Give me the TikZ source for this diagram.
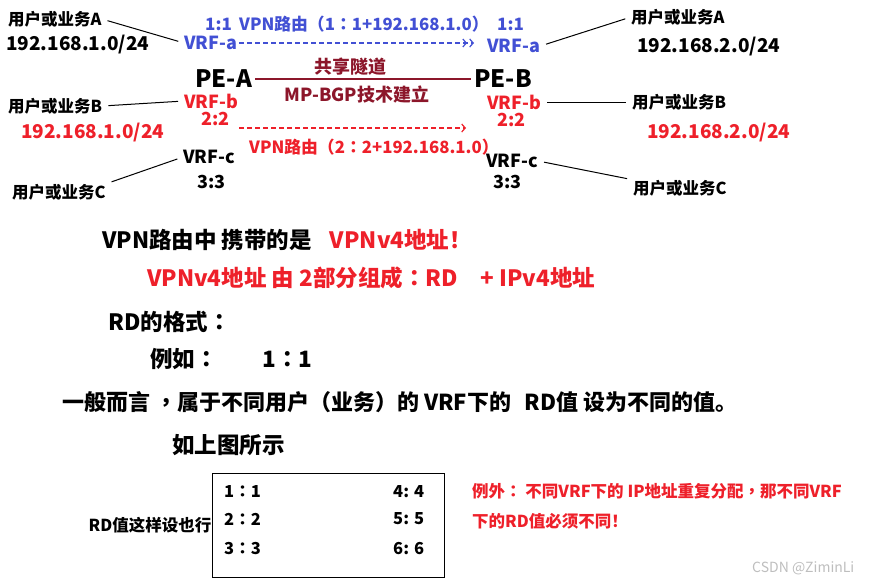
\documentclass[tikz,border=0pt]{standalone}
\usepackage{fontspec}
\setmainfont{Noto Sans CJK SC}
\newfontfamily\tcfont{Noto Sans CJK TC}
\usepackage{tikz}
\usetikzlibrary{arrows.meta}
\definecolor{vpnblue}{RGB}{66,80,212}
\definecolor{vpnred}{RGB}{238,32,42}
\definecolor{tunnelred}{RGB}{140,22,42}
\definecolor{markgray}{RGB}{190,190,190}
\newcommand{\setfs}[1]{\fontsize{#1}{#1}\selectfont}
\newcommand{\pu}[1]{{\tcfont#1}}

\begin{document}
\begin{tikzpicture}[x=1pt,y=-1pt,
    txt/.style={inner sep=0pt,anchor=west,font=\bfseries\setfs{16.5}},
    ipnum/.style={txt,font=\bfseries\setfs{19}},
    vrf/.style={txt,font=\bfseries\setfs{18}},
    pe/.style={txt,font=\bfseries\setfs{24}},
    big/.style={txt,font=\bfseries\setfs{22.5}},
    link/.style={draw=black,line width=1pt,shorten <=6pt,shorten >=6pt},
    route/.style={line width=1.2pt,dash pattern=on 5pt off 3pt}]
  \useasboundingbox (0,0) rectangle (869,584);
  % left side: PE-A
  \node[txt] (uAl) at (8,19) {用户或业务A};
  \node[ipnum] (ipAl) at (6,45) {192.168.1.0/24};
  \node[vrf,vpnblue,font=\bfseries\setfs{17}] (rdAl) at (205,24) {1:1};
  \node[vrf,vpnblue] (vrfaL) at (184,43) {VRF-a};
  \node[pe] (peA) at (195,79) {PE-A};
  \node[vrf,vpnred] (vrfbL) at (184,101) {VRF-b};
  \node[vrf,vpnred] (rdBl) at (201,119) {2:2};
  \node[txt] (uBl) at (8,106) {用户或业务B};
  \node[ipnum,vpnred] (ipBl) at (21,133) {192.168.1.0/24};
  \node[vrf] (vrfcL) at (183,157) {VRF-c};
  \node[vrf] (rdCl) at (197,182) {3:3};
  \node[txt] (uCl) at (12,192) {用户或业务C};
  % right side: PE-B
  \node[vrf,vpnblue,font=\bfseries\setfs{17}] (rdAr) at (497,24) {1:1};
  \node[vrf,vpnblue] (vrfaR) at (487,46) {VRF-a};
  \node[pe] (peB) at (474,79) {PE-B};
  \node[vrf,vpnred] (vrfbR) at (487,102) {VRF-b};
  \node[vrf,vpnred] (rdBr) at (497,120) {2:2};
  \node[vrf] (vrfcR) at (486,161) {VRF-c};
  \node[vrf] (rdCr) at (493,182) {3:3};
  \node[txt] (uAr) at (631,17) {用户或业务A};
  \node[ipnum] (ipAr) at (637,47) {192.168.2.0/24};
  \node[txt] (uBr) at (632,102) {用户或业务B};
  \node[ipnum,vpnred] (ipBr) at (647,133) {192.168.2.0/24};
  \node[txt] (uCr) at (633,188) {用户或业务C};
  % tunnel and routes
  \node[vrf,anchor=center,tunnelred] (tunnel) at (350,67) {共享隧道};
  \node[vrf,anchor=center,tunnelred] (mpbgp) at (357,95) {MP-BGP技术建立};
  \node[vrf,vpnblue,font=\bfseries\setfs{16.8}] (routeA) at (239,24)
    {VPN路由\pu{（}1\pu{：}1+192.168.1.0\pu{）}};
  \node[vrf,vpnred,font=\bfseries\setfs{16.8}] (routeB) at (249,147)
    {VPN路由\pu{（}2\pu{：}2+192.168.1.0\pu{）}};
  \coordinate (blueTail) at (239,43);
  \coordinate (blueHead) at (474,43);
  \coordinate (redTail) at (239,128);
  \coordinate (redHead) at (466,128);
  \draw[tunnelred,line width=1.5pt,shorten <=3pt,shorten >=3pt] (peA.east) -- (peB.west);
  \draw[route,vpnblue,-{Straight Barb[length=3.5pt,width=8pt,sep=2pt]Straight Barb[length=3.5pt,width=8pt]}]
    (blueTail) -- (blueHead);
  \draw[route,vpnred,-{Straight Barb[length=3.5pt,width=8pt]}] (redTail) -- (redHead);
  \draw[link] (uAl.east) -- (vrfaL.west);
  \draw[link] (uBl.east) -- (vrfbL.west);
  \draw[link] (uCl.north east) -- (vrfcL.west);
  \draw[link] (vrfaR.east) -- (uAr.west);
  \draw[link] (vrfbR.east) -- (uBr.west);
  \draw[link] (vrfcR.east) -- (uCr.north west);
  % explanation
  \node[big] (line1) at (102,240) {VPN路由中 携带的是\hspace{0.8em}\textcolor{vpnred}{VPNv4地址！}};
  \node[big,vpnred] (line2) at (147,278) {VPNv4地址 由 2部分组成\pu{：}RD\hspace{1em}+ IPv4地址};
  \node[big] (line3) at (108,322) {RD的格式\pu{：}};
  \node[big] (line4) at (150,359) {例如\pu{：}\hspace{2em}1\pu{：}1};
  \node[big,font=\bfseries\setfs{22}] (line5) at (62,402)
    {一般而言 \pu{，}属于不同用户\pu{（}业务\pu{）}的 VRF下的\hspace{0.6em}RD值 设为不同的值。};
  \node[big] (line6) at (172,445) {如上图所示};
  % RD table
  \node[draw=black,line width=1pt,minimum width=232pt,minimum height=104pt,inner sep=0pt]
    (rdbox) at (328,525) {};
  \node[txt,anchor=east] (rdnote) at (rdbox.west) {RD值这样设也行};
  \node[txt] (rd1) at (224,492) {1\pu{：}1};
  \node[txt] (rd2) at (224,519) {2\pu{：}2};
  \node[txt] (rd3) at (224,548) {3\pu{：}3};
  \node[txt] (rd4) at (393,492) {4: 4};
  \node[txt] (rd5) at (393,519) {5: 5};
  \node[txt] (rd6) at (393,548) {6: 6};
  \node[txt,vpnred] (exc1) at (472,491) {例外\pu{：} 不同VRF下的 IP地址重复分配\pu{，}那不同VRF};
  \node[txt,vpnred] (exc2) at (472,521) {下的RD值必须不同！};
  \node[txt,font=\setfs{14},markgray] (mark) at (752,568) {CSDN @ZiminLi};
\end{tikzpicture}
\end{document}
